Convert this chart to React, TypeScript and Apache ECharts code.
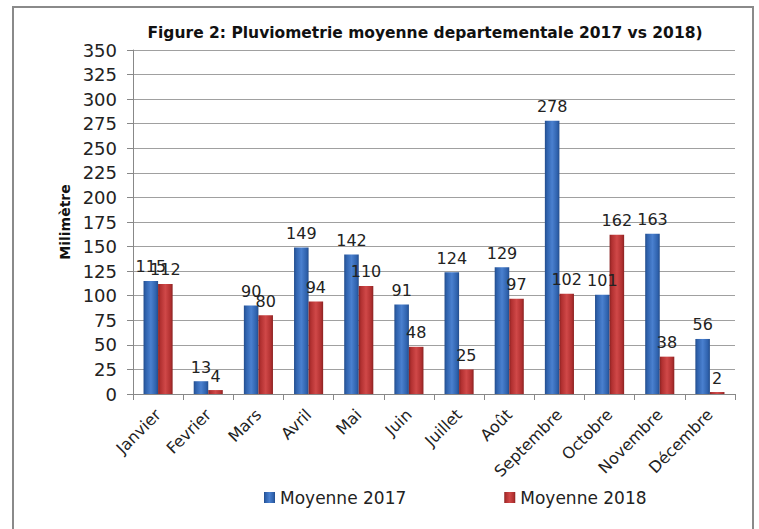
import React, { useEffect, useRef } from "react";
import * as echarts from "echarts";

const months = ["Janvier", "Fevrier", "Mars", "Avril", "Mai", "Juin", "Juillet", "Août", "Septembre", "Octobre", "Novembre", "Décembre"];
const moyenne2017 = [115, 13, 90, 149, 142, 91, 124, 129, 278, 101, 163, 56];
const moyenne2018 = [112, 4, 80, 94, 110, 48, 25, 97, 102, 162, 38, 2];
const titleText = "Figure 2: Pluviometrie moyenne departementale 2017 vs 2018)";
const yAxisTitle = "Milimètre";

const FONT = "DejaVu Sans";

function grad(dark: string, mid: string, light: string) {
  return new echarts.graphic.LinearGradient(0, 0, 1, 0, [
    { offset: 0, color: dark },
    { offset: 0.15, color: mid },
    { offset: 0.5, color: light },
    { offset: 0.85, color: mid },
    { offset: 1, color: dark },
  ]);
}

export default function App() {
  const ref = useRef<HTMLDivElement>(null);
  useEffect(() => {
    const chart = echarts.init(ref.current!, null, { renderer: "svg" });
    const labelCommon = {
      show: true,
      position: "top" as const,
      fontFamily: FONT,
      fontSize: 16,
      color: "#222",
      distance: 6,
    };
    chart.setOption({
      animation: false,
      backgroundColor: "#fff",
      textStyle: { fontFamily: FONT },
      title: {
        text: titleText,
        left: 420,
        textAlign: "center",
        top: 20,
        textStyle: { fontFamily: FONT, fontWeight: "bold", fontSize: 15.5, color: "#111" },
      },
      graphic: [
        {
          type: "rect",
          shape: { x: 13, y: 7, width: 740, height: 540 },
          style: { fill: "none", stroke: "#8a8a8a", lineWidth: 2 },
          silent: true,
        },
      ],
      legend: {
        bottom: 18,
        left: 259,
        itemGap: 98,
        itemWidth: 11,
        itemHeight: 11,
        icon: "rect",
        textStyle: { fontFamily: FONT, fontSize: 17, color: "#222" },
        data: ["Moyenne 2017", "Moyenne 2018"],
      },
      grid: { left: 133, right: 24, top: 50, bottom: 135 },
      xAxis: {
        type: "category",
        data: months,
        axisLine: { lineStyle: { color: "#888" } },
        axisTick: { show: true, alignWithLabel: false, length: 6, lineStyle: { color: "#888" } },
        axisLabel: { rotate: 45, fontFamily: FONT, fontSize: 16, color: "#222", margin: 18, interval: 0 },
      },
      yAxis: {
        type: "value",
        min: 0,
        max: 350,
        interval: 25,
        name: yAxisTitle,
        nameLocation: "middle",
        nameGap: 58,
        nameTextStyle: { fontFamily: FONT, fontWeight: "bold", fontSize: 14, color: "#111" },
        axisLine: { show: true, lineStyle: { color: "#888" } },
        axisTick: { show: true, length: 6, lineStyle: { color: "#888" } },
        splitLine: { lineStyle: { color: "#a0a0a0" } },
        axisLabel: { fontFamily: FONT, fontSize: 18, color: "#222", margin: 16 },
      },
      series: [
        {
          name: "Moyenne 2017",
          type: "bar",
          data: moyenne2017,
          barGap: "0%",
          barCategoryGap: "42%",
          itemStyle: { color: grad("#234d8c", "#2f62ad", "#4a80cf") },
          label: labelCommon,
        },
        {
          name: "Moyenne 2018",
          type: "bar",
          data: moyenne2018,
          itemStyle: { color: grad("#8a2222", "#b13030", "#d04848") },
          label: labelCommon,
        },
      ],
    });
    return () => chart.dispose();
  }, []);
  return <div ref={ref} style={{ position: "absolute", left: 0, top: 0, width: 759, height: 529 }} />;
}
